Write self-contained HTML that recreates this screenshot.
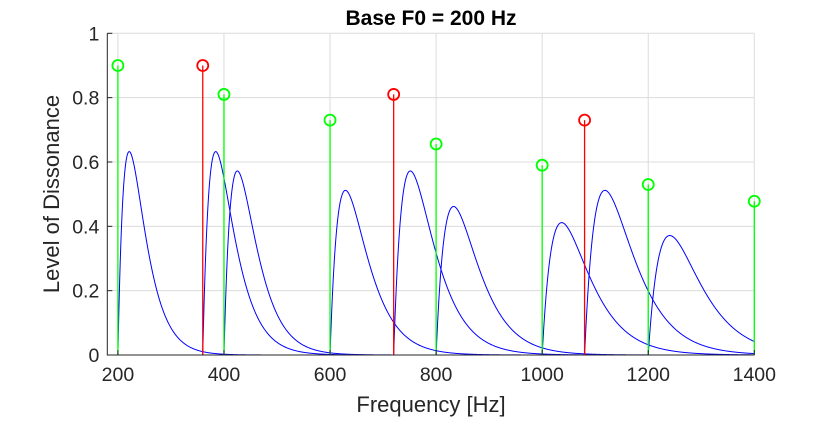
<!DOCTYPE html>
<html><head><meta charset="utf-8"><style>
body{margin:0;background:#fff;}
svg text{font-family:"Liberation Sans",Arial,sans-serif;fill:#262626;}
</style></head><body>
<svg id="chart" width="833" height="417">
<g id="grid"></g>
<g id="curves"></g>
<g id="stems"></g>
<g id="axes"></g>
<text x="431" y="25" text-anchor="middle" font-size="21" font-weight="bold" style="fill:#000">Base F0 = 200 Hz</text>
<text x="431" y="412" text-anchor="middle" font-size="22">Frequency [Hz]</text>
<text transform="translate(59,194) rotate(-90)" text-anchor="middle" font-size="22">Level of Dissonance</text>
</svg>
<script>
const xTicks=[200,400,600,800,1000,1200,1400];
const yTicks=[0,0.2,0.4,0.6,0.8,1];
const yTickLabels=["0","0.2","0.4","0.6","0.8","1"];
const greenFreqs=[200,400,600,800,1000,1200,1400];
const greenAmps=[0.9,0.81,0.73,0.656,0.59,0.53,0.478];
const redFreqs=[360,720,1080];
const redAmps=[0.9,0.81,0.73];
const curveFreqs=[200,360,400,600,720,800,1000,1080,1200];
const curvePeaks=[0.63,0.63,0.57,0.51,0.57,0.46,0.41,0.51,0.37];

const X0=180,X1=1400,PX0=107.3,PX1=754.3,PY0=355,PY1=33.3;
const sx=v=>PX0+(v-X0)/(X1-X0)*(PX1-PX0);
const sy=v=>PY0-v*(PY0-PY1);
const NS="http://www.w3.org/2000/svg";
function mk(parent,tag,attrs){const e=document.createElementNS(NS,tag);for(const k in attrs)e.setAttribute(k,attrs[k]);parent.appendChild(e);return e;}
const grid=document.getElementById('grid'),axes=document.getElementById('axes'),curves=document.getElementById('curves'),stems=document.getElementById('stems');

xTicks.forEach(t=>{
  const l=mk(grid,'line',{x1:sx(t),x2:sx(t),y1:PY0,y2:PY1,stroke:'#dcdcdc','stroke-width':1});
  
  
  const k=mk(axes,'line',{x1:sx(t),x2:sx(t),y1:PY0,y2:PY0-5,stroke:'#262626','stroke-width':1});
  
  
  const tx=mk(axes,'text',{x:sx(t),y:PY0+26,'text-anchor':'middle','font-size':19.5});
  tx.textContent=t;
  
  
});
yTicks.forEach((t,i)=>{
  const l=mk(grid,'line',{x1:PX0,x2:PX1,y1:sy(t),y2:sy(t),stroke:'#dcdcdc','stroke-width':1});
  
  
  const k=mk(axes,'line',{x1:PX0,x2:PX0+5,y1:sy(t),y2:sy(t),stroke:'#262626','stroke-width':1});
  
  
  const tx=mk(axes,'text',{x:PX0-8,y:sy(t)+7,'text-anchor':'end','font-size':19.5});
  tx.textContent=yTickLabels[i];
  
  
});
const ax=mk(axes,'path',{d:`M${PX0},${PY1}V${PY0}H${PX1}`,fill:'none',stroke:'#262626','stroke-width':1});



const b1=3.5,b2=5.75,peakFac=Math.exp(-b1*0.24)-Math.exp(-b2*0.24);
curveFreqs.forEach((f,i)=>{
  const s=0.24/(0.021*f+19);
  let d='';
  for(let x=f;x<=X1;x+=0.5){
    const dx=x-f;
    const v=curvePeaks[i]*(Math.exp(-b1*s*dx)-Math.exp(-b2*s*dx))/peakFac;
    d+=(x===f?'M':'L')+sx(x).toFixed(2)+','+sy(v).toFixed(2);
  }
  const p=mk(curves,'path',{d:d,fill:'none',stroke:'#0000ff','stroke-width':1});
  
  
});
function stem(f,a,col,name){
  const l=mk(stems,'line',{x1:sx(f),x2:sx(f),y1:PY0,y2:sy(a),stroke:col,'stroke-width':1.3});
  
  
  const c=mk(stems,'circle',{cx:sx(f),cy:sy(a),r:5.5,fill:'none',stroke:col,'stroke-width':1.8});
  
  
}
greenFreqs.forEach((f,i)=>stem(f,greenAmps[i],'#00ff00','harmonic'));
redFreqs.forEach((f,i)=>stem(f,redAmps[i],'#ff0000','partial'));
</script>
</body></html>
